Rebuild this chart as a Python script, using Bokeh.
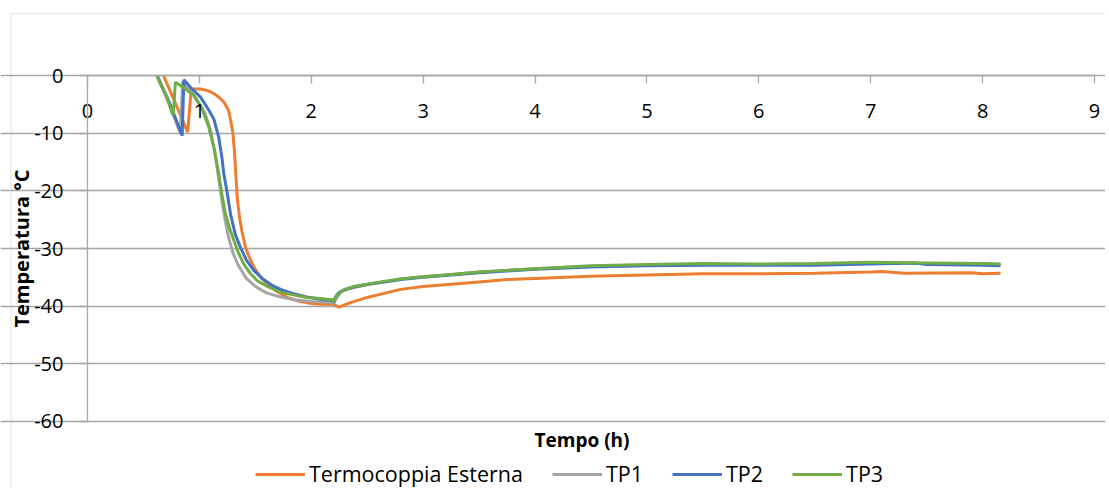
from bokeh.plotting import figure
from bokeh.models import Range1d, FixedTicker, Legend, LegendItem, Label, BoxAnnotation
from bokeh.embed import file_html
from bokeh.resources import INLINE

# ---- data (time in hours, temperature in °C) ----
t_est = [0.68, 0.80, 0.896, 0.927, 1.01, 1.08, 1.13, 1.18, 1.22, 1.26, 1.28, 1.30, 1.315,
         1.328, 1.34, 1.36, 1.38, 1.41, 1.44, 1.486, 1.54, 1.606, 1.69, 1.785, 1.90, 2.02,
         2.12, 2.20, 2.22, 2.245, 2.27, 2.32, 2.40, 2.5, 2.65, 2.8, 3.0, 3.25, 3.5, 3.75, 4.0,
         4.5, 5.0, 5.5, 6.0, 6.5, 7.0, 7.1, 7.3, 7.9, 8.0, 8.16]
T_est = [0.0, -5.4, -9.8, -2.3, -2.3, -2.6, -3.1, -3.8, -4.6, -6.0, -7.8, -10.0, -13.5,
         -18.0, -21.5, -24.8, -27.0, -29.6, -31.3, -33.2, -34.8, -36.1, -37.4, -38.5, -39.2, -39.6,
         -39.7, -39.7, -39.9, -40.2, -40.0, -39.6, -39.1, -38.5, -37.8, -37.1, -36.6, -36.2, -35.8,
         -35.4, -35.2, -34.8, -34.6, -34.4, -34.4, -34.3, -34.1, -34.0, -34.3, -34.2, -34.4, -34.3]

t_tp1 = [0.62, 0.72, 0.83, 0.85, 0.95, 1.05, 1.10, 1.14, 1.17, 1.20, 1.23, 1.26, 1.30,
         1.35, 1.42, 1.50, 1.60, 1.72, 1.85, 2.0, 2.10, 2.18, 2.20, 2.22, 2.26, 2.30, 2.38, 2.5,
         2.65, 2.8, 3.0, 3.25, 3.5, 3.75, 4.0, 4.5, 5.0, 5.5, 6.0, 6.5, 7.0, 7.5, 8.0, 8.16]
T_tp1 = [0.0, -4.4, -10.0, -1.0, -3.4, -6.5, -9.5, -13.5, -17.5, -21.5, -25.0, -28.0, -30.8,
         -33.0, -35.2, -36.6, -37.7, -38.4, -38.9, -39.2, -39.3, -39.4, -39.6, -38.8, -37.6, -37.2,
         -36.8, -36.3, -35.8, -35.3, -34.9, -34.5, -34.1, -33.8, -33.5, -33.1, -32.9, -32.8, -32.8,
         -32.7, -32.5, -32.6, -32.7, -32.8]

t_tp2 = [0.625, 0.74, 0.846, 0.861, 0.93, 1.01, 1.07, 1.129, 1.173, 1.20, 1.218, 1.25,
         1.278, 1.32, 1.367, 1.42, 1.486, 1.56, 1.65, 1.75, 1.85, 1.96, 2.08, 2.18, 2.20, 2.21,
         2.24, 2.27, 2.32, 2.40, 2.5, 2.65, 2.8, 3.0, 3.25, 3.5, 3.75, 4.0, 4.5, 5.0, 5.5, 6.0,
         6.5, 7.0, 7.4, 7.5, 8.0, 8.16]
T_tp2 = [0.0, -5.0, -10.4, -0.7, -2.2, -3.7, -5.5, -7.5, -10.7, -14.0, -17.0, -20.5,
         -24.0, -27.5, -29.8, -32.0, -33.8, -35.2, -36.4, -37.3, -37.9, -38.4, -38.8, -39.0, -39.3,
         -38.6, -37.8, -37.4, -37.0, -36.6, -36.2, -35.8, -35.4, -35.0, -34.6, -34.2, -33.9, -33.6,
         -33.2, -33.0, -32.9, -32.9, -32.9, -32.7, -32.5, -32.8, -32.9, -33.0]

t_tp3 = [0.62, 0.70, 0.766, 0.786, 0.87, 0.95, 1.02, 1.084, 1.13, 1.173, 1.20, 1.233,
         1.27, 1.308, 1.35, 1.397, 1.45, 1.517, 1.62, 1.725, 1.85, 1.963, 2.08, 2.186, 2.20,
         2.215, 2.24, 2.261, 2.30, 2.38, 2.5, 2.618, 2.797, 3.0, 3.25, 3.5, 3.75, 4.0, 4.5, 5.0,
         5.5, 6.0, 6.5, 7.0, 7.5, 8.0, 8.16]
T_tp3 = [0.0, -3.3, -6.9, -1.1, -2.2, -3.4, -5.5, -8.9, -12.5, -17.0, -20.5, -24.0,
         -26.5, -28.6, -30.8, -32.7, -34.2, -35.6, -36.7, -37.6, -38.1, -38.5, -38.7, -38.9, -39.3,
         -38.5, -38.0, -37.6, -37.1, -36.6, -36.2, -35.8, -35.3, -34.9, -34.5, -34.1, -33.8, -33.5,
         -33.0, -32.8, -32.6, -32.7, -32.6, -32.4, -32.5, -32.6, -32.7]

series_names = ["Termocoppia Esterna", "TP1", "TP2", "TP3"]
series_colors = ["#ED7D31", "#A5A5A5", "#4472C4", "#70AD47"]
x_ticks = [0, 1, 2, 3, 4, 5, 6, 7, 8, 9]
y_ticks = [-60, -50, -40, -30, -20, -10, 0]
x_title = "Tempo (h)"
y_title = "Temperatura °C"

FONT = "Open Sans"
GRID = "#a6a6a6"
W, H = 1105, 488

# the frame fills the whole canvas; axes sit at fixed data positions inside it
p = figure(width=W, height=H, output_backend="svg", toolbar_location=None,
           x_range=Range1d(-0.7776, 9.0983), y_range=Range1d(-71.69, 13.08),
           min_border_left=0, min_border_right=0, min_border_top=0, min_border_bottom=0)
p.outline_line_color = None
p.background_fill_color = "white"
p.border_fill_color = "white"

xa = p.xaxis[0]
xa.fixed_location = 0
xa.bounds = (0, 9)
xa.ticker = FixedTicker(ticks=x_ticks)
xa.major_tick_in = 0
xa.major_tick_out = 8
xa.minor_tick_in = 0
xa.minor_tick_out = 0
xa.major_label_standoff = 20
xa.axis_line_color = GRID
xa.axis_line_width = 1.3
xa.major_tick_line_color = GRID
xa.major_tick_line_width = 1.3
xa.major_label_text_font = FONT
xa.major_label_text_font_size = "20px"
xa.major_label_text_color = "black"

ya = p.yaxis[0]
ya.fixed_location = 0
ya.bounds = (-60, 0)
ya.ticker = FixedTicker(ticks=y_ticks)
ya.major_label_overrides = {v: str(v) for v in y_ticks}
ya.major_tick_in = 0
ya.major_tick_out = 8
ya.minor_tick_in = 0
ya.minor_tick_out = 0
ya.major_label_standoff = 16
ya.axis_line_color = GRID
ya.axis_line_width = 1.3
ya.major_tick_line_color = GRID
ya.major_tick_line_width = 1.3
ya.major_label_text_font = FONT
ya.major_label_text_font_size = "20px"
ya.major_label_text_color = "black"
ya.axis_label = y_title
ya.axis_label_text_font = FONT
ya.axis_label_text_font_size = "20px"
ya.axis_label_text_font_style = "bold"
ya.axis_label_text_color = "black"
ya.axis_label_standoff = -4

p.xgrid.visible = False
p.ygrid.ticker = FixedTicker(ticks=y_ticks)
p.ygrid.bounds = (0, 9)
p.ygrid.grid_line_color = GRID
p.ygrid.grid_line_width = 1.3

series = [(t_est, T_est), (t_tp1, T_tp1), (t_tp2, T_tp2), (t_tp3, T_tp3)]
items = []
for (tx, ty), name, col in zip(series, series_names, series_colors):
    r = p.line(tx, ty, line_color=col, line_width=3)
    items.append(LegendItem(label=name, renderers=[r]))

p.add_layout(Label(x=4.42, y=-63.35, text=x_title, text_font=FONT, text_font_size="19px",
                   text_font_style="bold", text_color="black",
                   text_align="center", text_baseline="middle"))

legend = Legend(items=items, orientation="horizontal", location=(255, 0),
                glyph_width=50, glyph_height=20, label_standoff=4, spacing=29,
                padding=0, margin=0, border_line_color=None, background_fill_alpha=0,
                label_text_font=FONT, label_text_font_size="21.5px", label_text_color="black")
p.add_layout(legend)

p.add_layout(BoxAnnotation(left=10.5, top=13.3, right=3000, bottom=3000,
                           left_units="canvas", top_units="canvas",
                           right_units="canvas", bottom_units="canvas",
                           fill_alpha=0, line_color="#bfbfbf", line_width=1.5))

open("out.html", "w").write(file_html(p, INLINE))
